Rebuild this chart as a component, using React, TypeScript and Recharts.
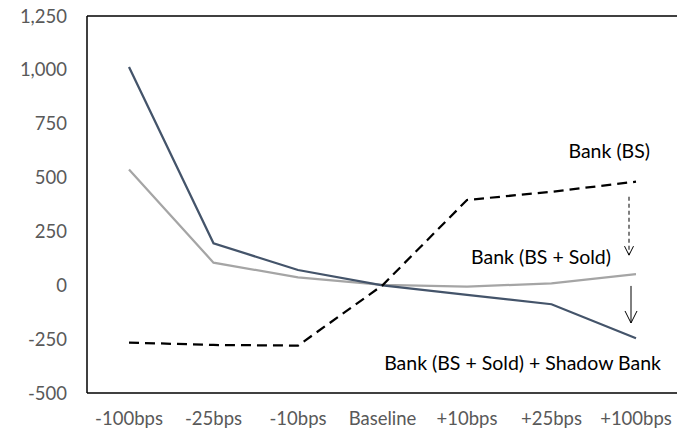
import { LineChart, Line, XAxis, YAxis, ReferenceLine, ReferenceDot } from "recharts";

const categories = ["-100bps", "-25bps", "-10bps", "Baseline", "+10bps", "+25bps", "+100bps"];
const bankBS = [-266, -277, -280, 0, 396, 434, 481];
const bankBSSold = [538, 105, 37, 2, -6, 9, 52];
const bankShadow = [1013, 195, 71, 0, -45, -88, -246];
const yTicks = [-500, -250, 0, 250, 500, 750, 1000, 1250];

const data = categories.map((cat, i) => ({
  cat,
  bankBS: bankBS[i],
  bankBSSold: bankBSSold[i],
  bankShadow: bankShadow[i],
}));

const FONT = "Lato, 'Noto Sans', sans-serif";

// text annotation placed right-aligned relative to a data point
function noteLabel(text: string, dx: number) {
  return (props: any) => {
    const { viewBox } = props;
    const cx = viewBox.x + viewBox.width / 2;
    const cy = viewBox.y + viewBox.height / 2;
    return (
      <text x={cx + dx} y={cy} dy="0.35em" textAnchor="end" fontSize={19.5} fill="#000" fontFamily={FONT}>
        {text}
      </text>
    );
  };
}

function arrowShape(dx: number, dashed: boolean, head: number) {
  return (props: any) => {
    const { x1, y1, x2, y2 } = props;
    const x = (x1 + x2) / 2 + dx;
    const top = Math.min(y1, y2);
    const bottom = Math.max(y1, y2);
    return (
      <g>
        <line x1={x} y1={top} x2={x} y2={bottom} stroke="#000" strokeWidth={1} strokeDasharray={dashed ? "4 3" : undefined} />
        <path d={`M${x - head * 0.5},${bottom - head} L${x},${bottom} L${x + head * 0.5},${bottom - head}`} fill="none" stroke="#000" strokeWidth={1} />
      </g>
    );
  };
}

export default function App() {
  return (
    <div style={{ fontFamily: FONT, width: 677, height: 433 }}>
      <style>{"html, body { margin: 0; padding: 0; overflow: hidden; }"}</style>
      <LineChart width={677} height={433} data={data} margin={{ top: 16, right: 0, bottom: 0, left: 8 }}>
        <XAxis
          dataKey="cat"
          interval={0}
          padding={{ left: 42, right: 41 }}
          tickLine={false}
          tickSize={0}
          tickMargin={19}
          height={40}
          axisLine={{ stroke: "#000", strokeWidth: 1.5 }}
          tick={{ fill: "#595959", fontSize: 18.5, fontFamily: FONT }}
        />
        <YAxis
          domain={[-500, 1250]}
          ticks={yTicks}
          interval={0}
          width={79}
          tickLine={false}
          tickSize={0}
          tickMargin={20}
          axisLine={{ stroke: "#000", strokeWidth: 1.5 }}
          tick={{ fill: "#595959", fontSize: 18.5, fontFamily: FONT }}
          tickFormatter={(v: number) => v.toLocaleString("en-US")}
        />
        <ReferenceLine y={1250} stroke="#000" strokeWidth={1.5} />
        <Line dataKey="bankBSSold" stroke="#A5A5A5" strokeWidth={2.25} dot={false} isAnimationActive={false} />
        <Line dataKey="bankShadow" stroke="#44546A" strokeWidth={2.25} dot={false} isAnimationActive={false} />
        <Line dataKey="bankBS" stroke="#000" strokeWidth={2.25} strokeDasharray="10 6" dot={false} isAnimationActive={false} />
        <ReferenceLine
          segment={[{ x: "+100bps", y: 411 }, { x: "+100bps", y: 140 }]}
          shape={arrowShape(-7, true, 9)}
        />
        <ReferenceLine
          segment={[{ x: "+100bps", y: -3 }, { x: "+100bps", y: -175 }]}
          shape={arrowShape(-5, false, 12)}
        />
        <ReferenceDot x="+100bps" y={623} r={0} stroke="none" label={noteLabel("Bank (BS)", 14)} />
        <ReferenceDot x="+100bps" y={131} r={0} stroke="none" label={noteLabel("Bank (BS + Sold)", -25)} />
        <ReferenceDot x="+100bps" y={-361} r={0} stroke="none" label={noteLabel("Bank (BS + Sold) + Shadow Bank", 25)} />
      </LineChart>
    </div>
  );
}
